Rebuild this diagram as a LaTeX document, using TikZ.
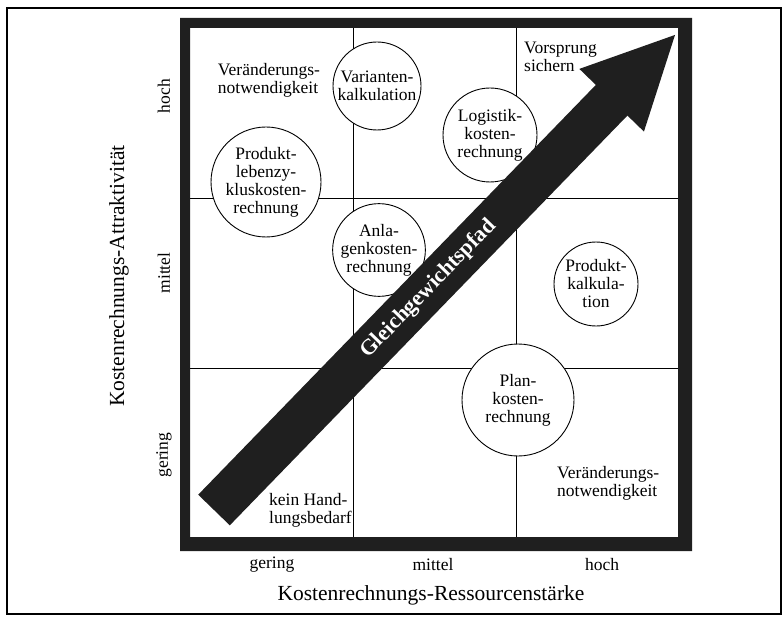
\documentclass[tikz,border=0pt]{standalone}
\usepackage{fontspec}
\setmainfont{Liberation Serif}
\begin{document}
\begin{tikzpicture}[x=1pt, y=-1pt,
  bubble/.style={draw, circle, line width=0.9pt, fill=white, inner sep=0pt, align=center, font=\fontsize{17.5}{18}\selectfont},
  lbl/.style={align=left, inner sep=0pt, font=\fontsize{17.5}{18}\selectfont},
  tick/.style={inner sep=0pt, font=\fontsize{17.5}{18}\selectfont},
  axis/.style={inner sep=0pt, font=\fontsize{21.5}{22}\selectfont}]
\useasboundingbox (0,0) rectangle (783,617);
\draw[line width=1.5pt] (7,8) rectangle (781,614);
% grid
\draw[line width=0.9pt] (353,28) -- (353,537);
\draw[line width=0.9pt] (516,28) -- (516,537);
\draw[line width=0.9pt] (190,198) -- (678,198);
\draw[line width=0.9pt] (190,368) -- (678,368);
% verfahren
\node (vari) [bubble, minimum size=88pt] at (377,86) {Varianten-\\kalkulation};
\node (plz) [bubble, minimum size=110pt] at (266,182) {Produkt-\\lebenzy-\\kluskosten-\\rechnung};
\node (logi) [bubble, minimum size=94pt] at (490,135) {Logistik-\\kosten-\\rechnung};
\node (anla) [bubble, minimum size=92pt] at (379,250) {Anla-\\genkosten-\\rechnung};
\node (pkalk) [bubble, minimum size=84pt] at (596,284) {Produkt-\\kalkula-\\tion};
\node (plan) [bubble, minimum size=112pt] at (518,400) {Plan-\\kosten-\\rechnung};
% felder
\node (vn1) [lbl] at (269,80) {Veränderungs-\\notwendigkeit};
\node (vors) [lbl, anchor=west] at (524,57) {Vorsprung\\sichern};
\node (kein) [lbl, anchor=west] at (269,510) {kein Hand-\\lungsbedarf};
\node (vn2) [lbl, anchor=west] at (557,483) {Veränderungs-\\notwendigkeit};
% pfad
\begin{scope}[shift={(214,510)}, rotate=45.86]
\fill[black!88] (0,-22) -- (571,-22) -- (571,-45) -- (662,0) -- (571,45) -- (571,22) -- (0,22) -- cycle;
\node (pfad) [rotate=45.86, text=white, font=\fontsize{22}{22}\selectfont\bfseries] at (308,0) {Gleichgewichtspfad};
\end{scope}
% rahmen
\fill[black!88, even odd rule] (180,18) rectangle (692,551) (190,28) rectangle (678,537);
% achsen
\node (xg) [tick] at (272,565) {gering};
\node (xm) [tick] at (433,565) {mittel};
\node (xh) [tick] at (602,565) {hoch};
\node (xt) [axis] at (431,595) {Kostenrechnungs-Ressourcenstärke};
\node (yh) [tick, rotate=90] at (164,96) {hoch};
\node (ym) [tick, rotate=90] at (164,273) {mittel};
\node (yg) [tick, rotate=90] at (164,455) {gering};
\node (yt) [axis, rotate=90] at (119,276) {Kostenrechnungs-Attraktivität};
\end{tikzpicture}
\end{document}
